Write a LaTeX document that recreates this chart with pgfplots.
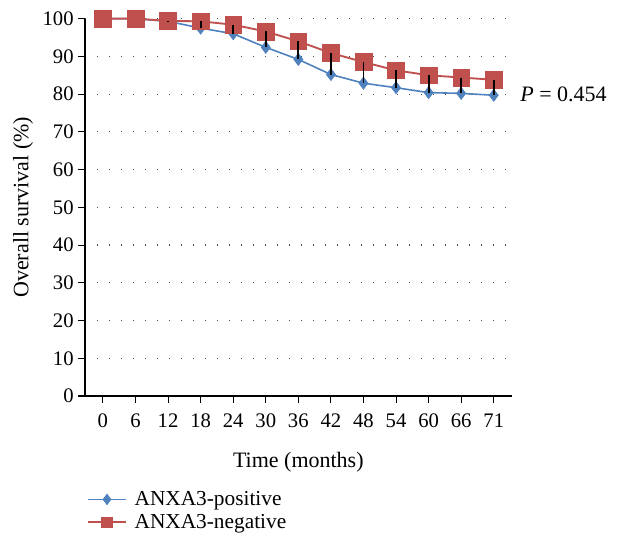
\documentclass[border=0pt]{standalone}
\usepackage{fontspec}
\setmainfont{Liberation Serif}
\usepackage{pgfplots}
\usepackage{pgfplotstable}
\pgfplotsset{compat=1.18}
\definecolor{bl}{HTML}{4F81BD}
\definecolor{rd}{HTML}{C0504D}
\pgfplotstableread{
idx t pos neg
0 0 100 100
1 6 100 100
2 12 99.3 99.4
3 18 97.5 99.3
4 24 96.0 98.4
5 30 92.4 96.6
6 36 89.2 94.0
7 42 85.2 90.9
8 48 82.9 88.5
9 54 81.7 86.3
10 60 80.4 85.0
11 66 80.2 84.4
12 71 79.7 83.8
}\surv
\begin{document}
\begin{tikzpicture}
\path[use as bounding box] (-63.75pt,-114.75pt) rectangle (402.75pt,297pt);
\begin{axis}[
  clip marker paths=true,
  scale only axis,
  width=320pt, height=283pt,
  xmin=-0.55, xmax=12.55, ymin=0, ymax=100,
  axis lines*=left,
  axis line style={black, line width=0.9pt, -},
  clip=false,
  xtick={0,...,12},
  xticklabels={0,6,12,18,24,30,36,42,48,54,60,66,71},
  ytick={0,10,...,100},
  tick align=outside,
  major tick length=5pt,
  tick style={black, line width=0.8pt},
  ymajorgrids=true,
  grid style={black!70, line width=0.9pt, dash pattern=on 0.9pt off 8.1pt},
  every tick label/.append style={font=\fontsize{15.5}{18}\selectfont},
  xticklabel style={yshift=-5pt},
  /pgf/number format/assume math mode=true,
  xlabel={Time (months)},
  ylabel={Overall survival (\%)},
  label style={font=\fontsize{16.5}{19}\selectfont},
  xlabel style={at={(axis description cs:0.5,-0.175)}, anchor=center},
  ylabel style={at={(axis description cs:-0.145,0.5)}, anchor=center},
  legend style={at={(axis description cs:0.005,-0.245)}, anchor=north west,
    draw=none, fill=none, font=\fontsize{16}{19}\selectfont,
    row sep=1pt, inner sep=0pt},
  legend cell align=left,
  legend image code/.code={
    \draw[#1] (0pt,0pt) -- (28pt,0pt);
    \path[#1, /tikz/mark size=4pt] plot coordinates {(14pt,0pt)};
  },
  every axis legend/.append style={/tikz/every odd column/.style={column sep=4pt}},
]
\addplot[bl, line width=1.2pt, mark=diamond*, mark size=4.6pt,
  mark options={fill=bl, draw=bl, line width=0.4pt}]
  table[x=idx, y=pos] {\surv};
\addlegendentry{ANXA3-positive}
\addplot[rd, line width=1.4pt, mark=square*, mark size=6.3pt,
  mark options={fill=rd, draw=rd, line width=0.4pt}]
  table[x=idx, y=neg] {\surv};
\addlegendentry{ANXA3-negative}
\pgfplotsset{every axis plot/.append style={forget plot}}
\addplot[black, line width=1.4pt, mark=none] coordinates {(2,99.4) (2,99.3)};
\addplot[black, line width=1.4pt, mark=none] coordinates {(3,99.3) (3,97.5)};
\addplot[black, line width=1.4pt, mark=none] coordinates {(4,98.4) (4,96.0)};
\addplot[black, line width=1.4pt, mark=none] coordinates {(5,96.6) (5,92.4)};
\addplot[black, line width=1.4pt, mark=none] coordinates {(6,94.0) (6,89.2)};
\addplot[black, line width=1.4pt, mark=none] coordinates {(7,90.9) (7,85.2)};
\addplot[black, line width=1.4pt, mark=none] coordinates {(8,88.5) (8,82.9)};
\addplot[black, line width=1.4pt, mark=none] coordinates {(9,86.3) (9,81.7)};
\addplot[black, line width=1.4pt, mark=none] coordinates {(10,85.0) (10,80.4)};
\addplot[black, line width=1.4pt, mark=none] coordinates {(11,84.4) (11,80.2)};
\addplot[black, line width=1.4pt, mark=none] coordinates {(12,83.8) (12,79.7)};
\node[anchor=west, font=\fontsize{16.5}{19}\selectfont, xshift=3pt]
  at (axis cs:12.55,80) {\textit{P} = 0.454};
\end{axis}
\end{tikzpicture}
\end{document}
